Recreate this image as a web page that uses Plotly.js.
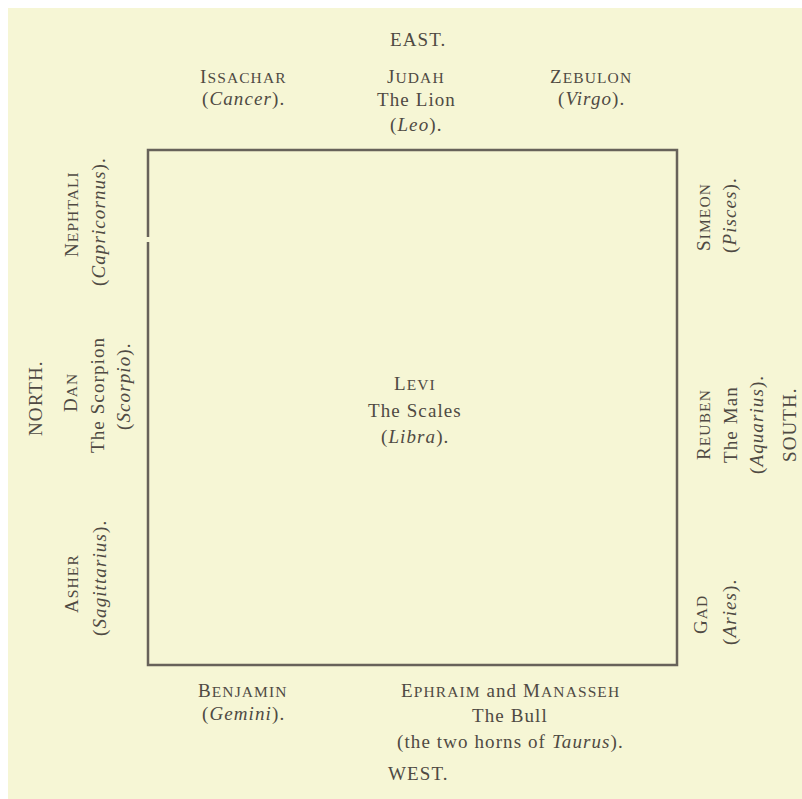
<!DOCTYPE html>
<html>
<head>
<meta charset="utf-8">
<script src="https://cdn.plot.ly/plotly-3.0.1.min.js"></script>
<style>
  html, body { margin: 0; padding: 0; background: #ffffff; }
  #chart { width: 802px; height: 799px; }
  .annotation-text { letter-spacing: 1.1px; }
</style>
</head>
<body>
<div id="chart"></div>
<script>
// ---- content ----
const directions = ["EAST.", "WEST.", "NORTH.", "SOUTH."];
const tribes  = ["Issachar", "Judah", "Zebulon", "Nephtali", "Dan", "Asher",
                 "Simeon", "Reuben", "Gad", "Benjamin", "Ephraim and Manasseh", "Levi"];
const emblems = ["", "The Lion", "", "", "The Scorpion", "",
                 "", "The Man", "", "", "The Bull", "The Scales"];
const signLead = ["", "", "", "", "", "", "", "", "", "", "the two horns of ", ""];
const signs   = ["Cancer", "Leo", "Virgo", "Capricornus", "Scorpio", "Sagittarius",
                 "Pisces", "Aquarius", "Aries", "Gemini", "Taurus", "Libra"];

// ---- placement (layout only) ----
const groupPlace = [
  {rot:false, lines:[[243,76],[243,99]]},
  {rot:false, lines:[[416,76],[416,99],[416,125]]},
  {rot:false, lines:[[591,76],[591,99]]},
  {rot:true,  lines:[[71,214],[99,222]]},
  {rot:true,  lines:[[70,393],[97,395],[124,386]]},
  {rot:true,  lines:[[71,584],[100,578]]},
  {rot:true,  lines:[[703,217],[730,215]]},
  {rot:true,  lines:[[703,425],[730,425],[757,425]]},
  {rot:true,  lines:[[700,615],[730,612]]},
  {rot:false, lines:[[243,690],[243,714]]},
  {rot:false, lines:[[510,690],[510,715],[510,742]]},
  {rot:false, lines:[[415,383],[415,410],[415,437]]}
];
const dirPlace = [
  {rot:false, at:[418,39]},
  {rot:false, at:[418,773]},
  {rot:true,  at:[35,398]},
  {rot:true,  at:[789,425]}
];

const INK = "#4f4a43";
const FONT = '"Liberation Serif", "Times New Roman", serif';
const BASE = 19;
const SMALL = 15.5;

function smallCaps(name) {
  return name.split(" ").map(function (w) {
    if (w === "and") return "and";
    return w[0].toUpperCase() + '<span style="font-size:' + SMALL + 'px">' + w.slice(1).toUpperCase() + "</span>";
  }).join(" ");
}

function ann(text, at, rot) {
  return {
    text: text, x: at[0], y: at[1], xref: "x", yref: "y",
    showarrow: false, xanchor: "center", yanchor: "middle",
    textangle: rot ? -90 : 0,
    font: {family: FONT, size: BASE, color: INK}
  };
}

const annotations = [];
tribes.forEach(function (t, i) {
  const g = groupPlace[i];
  const lines = [smallCaps(t)];
  if (emblems[i]) lines.push(emblems[i]);
  lines.push("(" + signLead[i] + "<i>" + signs[i] + "</i>).");
  lines.forEach(function (txt, k) {
    annotations.push(ann(txt, g.lines[k], g.rot));
  });
});
directions.forEach(function (d, i) {
  annotations.push(ann(d, dirPlace[i].at, dirPlace[i].rot));
});

const CREAM = "#f6f6d5";
const LINE = "#67625a";
const shapes = [
  {type:"rect", xref:"x", yref:"y", x0:8, x1:802, y0:8, y1:799,
   fillcolor: CREAM, line:{width:0}, layer:"below"},
  {type:"rect", xref:"x", yref:"y", x0:148, x1:677, y0:150, y1:665,
   fillcolor:"rgba(0,0,0,0)", line:{color: LINE, width: 2.5}},
  {type:"line", xref:"x", yref:"y", x0:148, x1:148, y0:237, y1:242,
   line:{color: CREAM, width: 5}}
];

const layout = {
  width: 802, height: 799,
  margin: {l:0, r:0, t:0, b:0, pad:0},
  paper_bgcolor: "#ffffff", plot_bgcolor: "#ffffff",
  showlegend: false,
  xaxis: {range:[0,802], visible:false, fixedrange:true},
  yaxis: {range:[799,0], visible:false, fixedrange:true},
  shapes: shapes,
  annotations: annotations
};

Plotly.newPlot("chart", [{x:[], y:[], type:"scatter", mode:"markers", hoverinfo:"skip"}], layout,
  {staticPlot:true, displayModeBar:false});
</script>
</body>
</html>
